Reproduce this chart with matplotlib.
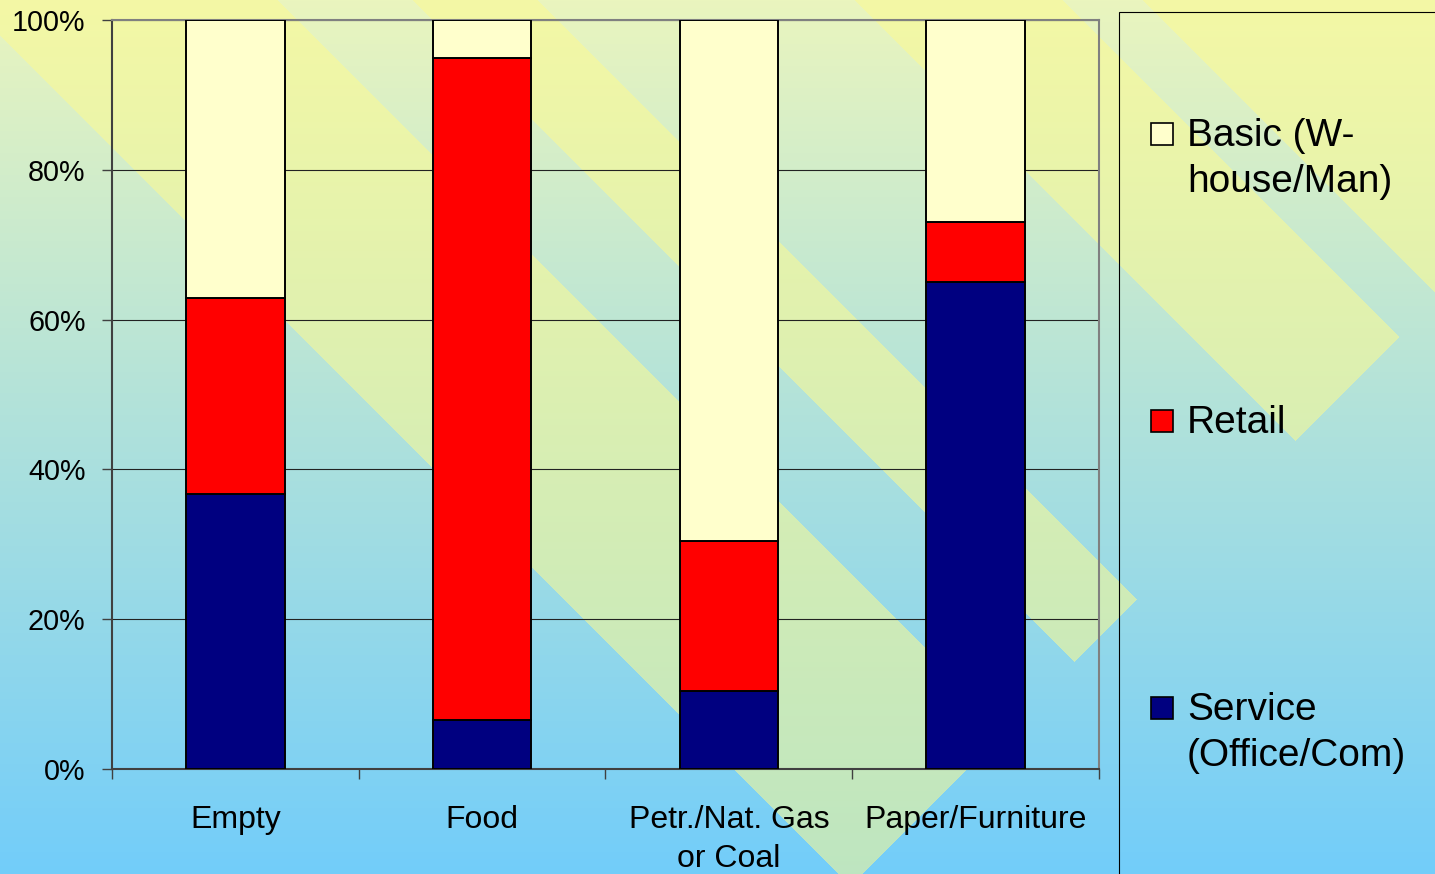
import numpy as np
import matplotlib.pyplot as plt
from matplotlib.patches import Rectangle
from matplotlib.ticker import PercentFormatter, FixedLocator

plt.rcParams['font.family'] = ['Liberation Sans', 'DejaVu Sans']

categories = ["Empty", "Food", "Petr./Nat. Gas\nor Coal", "Paper/Furniture"]
service = [36.7, 6.5, 10.4, 65.0]
retail = [26.2, 88.4, 20.0, 8.0]
basic = [37.1, 5.1, 69.6, 27.0]

series_names = ["Service\n(Office/Com)", "Retail", "Basic (W-\nhouse/Man)"]
colors = ["#000080", "#ff0000", "#ffffcc"]

W, H = 1435, 874

# background: vertical gradient with diagonal yellow bands
yy, xx = np.mgrid[0:H, 0:W]
t = (yy / (H - 1))[..., None]
top = np.array([234, 245, 190]) / 255
bottom = np.array([114, 205, 250]) / 255
img = top * (1 - t) + bottom * t
u = xx - yy
v = xx + yy
bands = [(-35, 277), (413, 537), (855, 1062), (1143, 1600)]
mask = np.zeros((H, W), bool)
for a, b in bands:
    mask |= (u >= a) & (u <= b) & (v <= 1735)
band_col = np.array([252, 250, 145]) / 255
img[mask] = img[mask] * 0.45 + band_col * 0.55

fig = plt.figure(figsize=(W / 100, H / 100), dpi=100)
bg = fig.add_axes([0, 0, 1, 1], zorder=0)
bg.imshow(img, aspect='auto', extent=(0, W, H, 0), interpolation='nearest')
bg.axis('off')

ax = fig.add_axes([112 / W, 1 - 769 / H, 987 / W, 749 / H], zorder=1)
ax.patch.set_visible(False)

x = np.arange(len(categories))
bottoms = np.zeros(len(categories))
for vals, name, c in zip([service, retail, basic], series_names, colors):
    ax.bar(x, vals, 0.4, bottom=bottoms, color=c, edgecolor='black',
           linewidth=1.4, label=name, zorder=3)
    bottoms += np.array(vals)

ax.set_xlim(-0.5, len(categories) - 0.5)
ax.set_ylim(0, 100)
ax.set_yticks(np.arange(0, 101, 20))
ax.yaxis.set_major_formatter(PercentFormatter(decimals=0))
ax.set_xticks(x)
ax.set_xticklabels(categories)
ax.xaxis.set_minor_locator(FixedLocator(np.arange(-0.5, len(categories), 1.0)))
for lbl in ax.get_xticklabels():
    lbl.set_linespacing(1.4)

ax.grid(axis='y', color='#222222', linewidth=0.8, zorder=0)
ax.set_axisbelow(True)

ax.tick_params(axis='x', which='major', length=0, pad=26, labelsize=23)
ax.tick_params(axis='x', which='minor', length=7.5, width=1.0, color='#404040')
ax.tick_params(axis='y', length=7.5, width=1.0, color='#404040', pad=11.5,
               labelsize=20.7)

for s in ['left', 'bottom']:
    ax.spines[s].set_color('#404040')
    ax.spines[s].set_linewidth(1.5)
for s in ['top', 'right']:
    ax.spines[s].set_color('#808080')
    ax.spines[s].set_linewidth(1.5)

# legend box on the right
fig.add_artist(Rectangle((1119 / W, -0.05), 0.5, 0.05 + 1 - 12 / H,
                         transform=fig.transFigure, fill=False,
                         edgecolor='black', linewidth=0.8))
leg_base = [720, 433, 146]
for name, c, base in zip(series_names, colors, leg_base):
    cy = base - 12
    fig.add_artist(Rectangle((1151 / W, 1 - (cy + 11) / H), 22 / W, 22 / H,
                             transform=fig.transFigure, facecolor=c,
                             edgecolor='black', linewidth=1.2))
    for i, line in enumerate(name.split('\n')):
        fig.text(1187 / W, 1 - (base + 46 * i) / H, line, fontsize=28,
                 va='baseline', ha='left')

fig.savefig('out.png', dpi=100)
